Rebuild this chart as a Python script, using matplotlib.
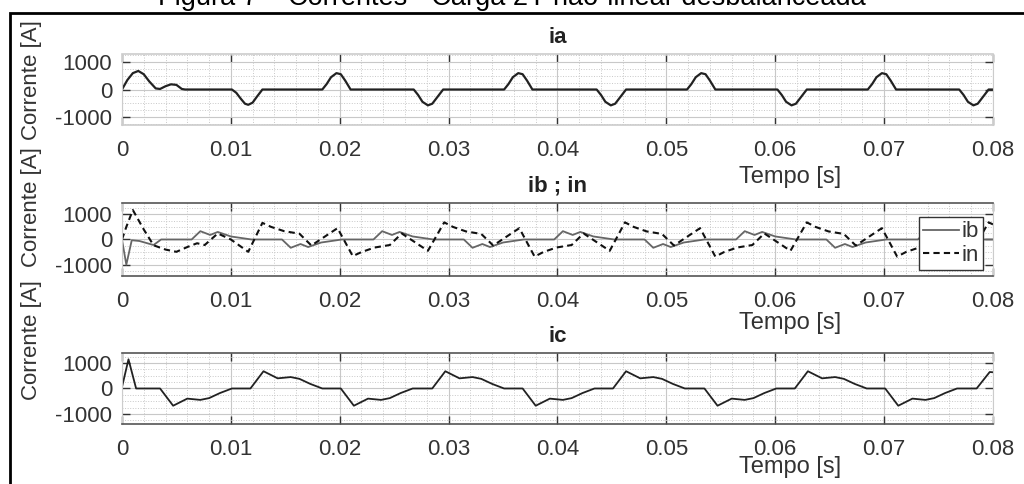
import matplotlib
matplotlib.use("Agg")
import matplotlib.pyplot as plt
from matplotlib.ticker import MultipleLocator
from matplotlib.patches import Rectangle

plt.rcParams["font.family"] = ["Liberation Sans", "DejaVu Sans"]

# ---- data (time in s, current in A) ----
ia_t = [0.0000, 0.0005, 0.0010, 0.0015, 0.0020, 0.0025, 0.0031, 0.0035, 0.0040, 0.0045, 0.0050, 0.0055, 0.0058,
        0.0101, 0.0105, 0.0109, 0.0113, 0.0116, 0.0120, 0.0124, 0.0129,
        0.0184, 0.0188, 0.0192, 0.0197, 0.0201, 0.0205, 0.0210,
        0.0268, 0.0272, 0.0276, 0.0281, 0.0285, 0.0290, 0.0295,
        0.0351, 0.0355, 0.0359, 0.0364, 0.0368, 0.0372, 0.0377,
        0.0436, 0.0440, 0.0444, 0.0449, 0.0453, 0.0458, 0.0463,
        0.0519, 0.0523, 0.0527, 0.0532, 0.0536, 0.0540, 0.0545,
        0.0602, 0.0606, 0.0610, 0.0615, 0.0619, 0.0624, 0.0629,
        0.0685, 0.0689, 0.0693, 0.0698, 0.0702, 0.0706, 0.0711,
        0.0769, 0.0773, 0.0777, 0.0782, 0.0786, 0.0791, 0.0796, 0.0800]
ia_v = [0, 350, 600, 680, 560, 300, 40, 20, 120, 190, 170, 20, 0,
        0, -120, -330, -520, -560, -480, -260, 0,
        0, 200, 450, 600, 560, 330, 0,
        0, -200, -450, -580, -520, -260, 0,
        0, 200, 450, 600, 560, 330, 0,
        0, -200, -450, -580, -520, -260, 0,
        0, 200, 450, 600, 560, 330, 0,
        0, -200, -450, -580, -520, -260, 0,
        0, 200, 450, 600, 560, 330, 0,
        0, -200, -450, -580, -520, -260, 0, 0]

ib_t = [0.0000, 0.0004, 0.0009, 0.0016, 0.0029, 0.0036,
        0.0064, 0.0072, 0.0081, 0.0088, 0.0100, 0.0119,
        0.0147, 0.0155, 0.0164, 0.0171, 0.0183, 0.0202,
        0.0231, 0.0239, 0.0248, 0.0255, 0.0267, 0.0286,
        0.0314, 0.0322, 0.0331, 0.0338, 0.0350, 0.0369,
        0.0397, 0.0405, 0.0414, 0.0421, 0.0433, 0.0452,
        0.0480, 0.0488, 0.0497, 0.0504, 0.0516, 0.0535,
        0.0564, 0.0572, 0.0581, 0.0588, 0.0600, 0.0619,
        0.0647, 0.0655, 0.0664, 0.0671, 0.0683, 0.0702,
        0.0731, 0.0739, 0.0748, 0.0755, 0.0767, 0.0786, 0.0800]
ib_v = [0, -1000, -30, -60, -220, 0,
        0, 330, 180, 300, 120, 0,
        0, -330, -180, -300, -120, 0,
        0, 330, 180, 300, 120, 0,
        0, -330, -180, -300, -120, 0,
        0, 330, 180, 300, 120, 0,
        0, -330, -180, -300, -120, 0,
        0, 330, 180, 300, 120, 0,
        0, -330, -180, -300, -120, 0,
        0, 330, 180, 300, 120, 0, 0]

in_t = [0.0000, 0.0004, 0.0010, 0.0020, 0.0029, 0.0040, 0.0050, 0.0060, 0.0069, 0.0076, 0.0088, 0.0100, 0.0116,
        0.0129, 0.0137, 0.0149, 0.0163, 0.0174, 0.0191, 0.0198,
        0.0212, 0.0220, 0.0232, 0.0246, 0.0257, 0.0274, 0.0281,
        0.0296, 0.0304, 0.0316, 0.0330, 0.0341, 0.0358, 0.0365,
        0.0379, 0.0387, 0.0399, 0.0413, 0.0424, 0.0441, 0.0448,
        0.0462, 0.0470, 0.0482, 0.0496, 0.0507, 0.0524, 0.0531,
        0.0545, 0.0553, 0.0565, 0.0579, 0.0590, 0.0607, 0.0614,
        0.0629, 0.0637, 0.0649, 0.0663, 0.0674, 0.0691, 0.0698,
        0.0712, 0.0720, 0.0732, 0.0746, 0.0757, 0.0774, 0.0781,
        0.0796, 0.0800]
in_v = [0, 500, 1170, 400, -230, -400, -490, -300, -150, -220, 240, 0, -490,
        660, 500, 330, 230, -240, 250, 450,
        -660, -500, -320, -220, 240, -250, -450,
        680, 500, 320, 220, -240, 250, 450,
        -680, -500, -320, -220, 240, -250, -450,
        680, 500, 320, 220, -240, 250, 450,
        -680, -500, -320, -220, 240, -250, -450,
        680, 500, 320, 220, -240, 250, 450,
        -680, -500, -320, -220, 240, -250, -450,
        680, 600]

ic_t = [0.0000, 0.0006, 0.0013, 0.0035, 0.0047, 0.0060, 0.0072, 0.0080, 0.0090, 0.0101,
        0.0118, 0.0130, 0.0143, 0.0155, 0.0163, 0.0173, 0.0184,
        0.0201, 0.0213, 0.0226, 0.0238, 0.0246, 0.0256, 0.0267,
        0.0285, 0.0297, 0.0310, 0.0322, 0.0330, 0.0340, 0.0351,
        0.0368, 0.0380, 0.0393, 0.0405, 0.0413, 0.0423, 0.0434,
        0.0451, 0.0463, 0.0476, 0.0488, 0.0496, 0.0506, 0.0517,
        0.0535, 0.0547, 0.0560, 0.0572, 0.0580, 0.0590, 0.0601,
        0.0618, 0.0630, 0.0643, 0.0655, 0.0663, 0.0673, 0.0684,
        0.0701, 0.0713, 0.0726, 0.0738, 0.0746, 0.0756, 0.0767,
        0.0785, 0.0797, 0.0800]
ic_v = [50, 1150, 0, 0, -680, -400, -450, -380, -180, 0,
        0, 680, 400, 450, 380, 180, 0,
        0, -680, -400, -450, -380, -180, 0,
        0, 680, 400, 450, 380, 180, 0,
        0, -680, -400, -450, -380, -180, 0,
        0, 680, 400, 450, 380, 180, 0,
        0, -680, -400, -450, -380, -180, 0,
        0, 680, 400, 450, 380, 180, 0,
        0, -680, -400, -450, -380, -180, 0,
        0, 650, 640]

x_ticks = [0, 0.01, 0.02, 0.03, 0.04, 0.05, 0.06, 0.07, 0.08]
x_labels = ["0", "0.01", "0.02", "0.03", "0.04", "0.05", "0.06", "0.07", "0.08"]
y_ticks = [-1000, 0, 1000]
y_labels = ["-1000", "0", "1000"]

fig = plt.figure(figsize=(10.24, 4.84), dpi=100)

ax1 = fig.add_axes([0.1191, 0.7417, 0.8506, 0.1467])
ax2 = fig.add_axes([0.1191, 0.4298, 0.8506, 0.1508])
ax3 = fig.add_axes([0.1191, 0.1240, 0.8506, 0.1467])

ax1.plot(ia_t, ia_v, color="#222222", lw=1.6)
ax2.plot(ib_t, ib_v, color="#666666", lw=1.3, label="ib")
ax2.plot(in_t, in_v, color="#111111", lw=1.5, ls=(0, (3, 2)), label="in")
ax3.plot(ic_t, ic_v, color="#222222", lw=1.3)

settings = [(ax1, "ia", 1300, "#cccccc", 0.732),
            (ax2, "ib ; in", 1450, "#555555", 0.64),
            (ax3, "ic", 1400, "#555555", 0.60)]

for ax, title, ylim, spine_col, lab_y in settings:
    ax.set_xlim(0, 0.08)
    ax.set_ylim(-ylim, ylim)
    ax.set_xticks(x_ticks)
    ax.set_xticklabels(x_labels)
    ax.set_yticks(y_ticks)
    ax.set_yticklabels(y_labels)
    ax.xaxis.set_minor_locator(MultipleLocator(0.002))
    ax.yaxis.set_minor_locator(MultipleLocator(250))
    ax.grid(which="major", color="#c8c8c8", lw=0.8, ls="-")
    ax.grid(which="minor", color="#c8c8c8", lw=0.7, ls=":")
    ax.set_axisbelow(True)
    ax.tick_params(which="major", direction="in", top=True, right=True, length=6, width=1.0,
                   color="#333333", labelsize=16, labelcolor="#333333")
    ax.tick_params(axis="x", pad=11)
    ax.tick_params(axis="y", pad=7)
    ax.tick_params(which="minor", length=0)
    for side in ["left", "right"]:
        ax.spines[side].set_color("#cccccc")
        ax.spines[side].set_linewidth(0.8)
    for side in ["top", "bottom"]:
        ax.spines[side].set_color(spine_col)
        ax.spines[side].set_linewidth(1.2)
    ax.set_title(title, fontsize=16, fontweight="bold", color="#222222", pad=8)
    ax.set_xlabel("Tempo [s]", fontsize=17, color="#333333")
    ax.xaxis.set_label_coords(0.767, -lab_y)
    ax.xaxis.label.set_va("center")

leg = ax2.legend(loc="upper right", bbox_to_anchor=(0.9885, 0.808), borderaxespad=0,
                 fontsize=16, frameon=True, fancybox=False, framealpha=1, edgecolor="#333333",
                 handlelength=1.6, handletextpad=0.1, labelspacing=0.1, borderpad=0.2)
leg.get_frame().set_linewidth(1.0)
for txt in leg.get_texts():
    txt.set_color("#333333")

# rotated y labels, placed as in the reference
for ypos in [0.835, 0.572, 0.2975]:
    fig.text(0.031, ypos, "Corrente [A]", rotation=90, ha="center", va="center",
             fontsize=16, color="#333333")

# page frame (right and bottom edges fall outside the picture) and cropped caption
fig.patches.append(Rectangle((10 / 1024, -0.02), 1.05, 1.02 - 12.5 / 484,
                             transform=fig.transFigure, fill=False, edgecolor="black", lw=2))
fig.text(0.5, 1 - 5 / 484, "Figura 7 \u2013 Correntes - Carga 2Y n\u00e3o-linear desbalanceada",
         ha="center", va="baseline", fontsize=19.5, color="black")

fig.savefig("out.png", dpi=100)
